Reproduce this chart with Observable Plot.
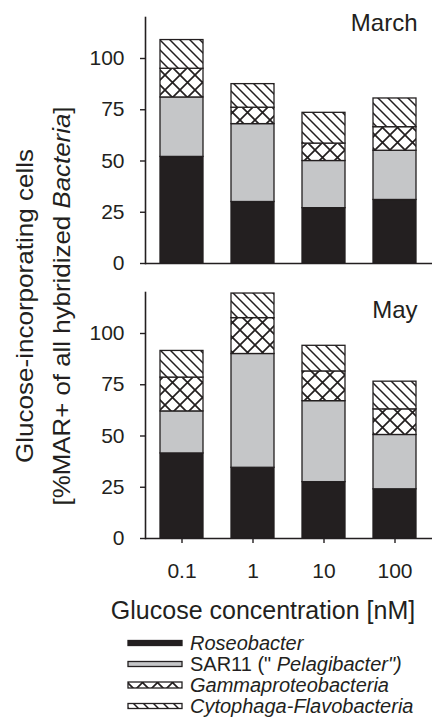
<!DOCTYPE html>
<html><head><meta charset="utf-8">
<script src="https://cdn.jsdelivr.net/npm/d3@7"></script>
<script src="https://cdn.jsdelivr.net/npm/@observablehq/plot@0.6"></script>
<style>
body{margin:0;background:#fff;}
#wrap{position:relative;width:432px;height:723px;overflow:hidden;font-family:"Liberation Sans",Arial,sans-serif;background:#fff;}
#wrap > svg{position:absolute;left:0;}
</style></head><body><div id="wrap"></div>
<script>
const concentrations = ["0.1", "1", "10", "100"];
const groups = ["Roseobacter", "SAR11", "Gammaproteobacteria", "Cytophaga-Flavobacteria"];
const months = ["March", "May"];
const marchRoseobacter = [52, 30, 27, 31];
const marchSAR11 = [29, 38, 23, 24];
const marchGamma = [14, 8, 8.5, 11.5];
const marchCytophaga = [14, 11.5, 15, 14];
const mayRoseobacter = [41.5, 34.5, 27.5, 24];
const maySAR11 = [20.5, 55.5, 39.5, 26.5];
const mayGamma = [16.5, 17.5, 14.5, 12.5];
const mayCytophaga = [13, 12, 12.5, 13.5];
const yTicks = [0, 25, 50, 75, 100];
const yDomain = [0, 120];
const fills = ["#231f20", "#c5c6c8", "url(#cross)", "url(#diag)"];
const legendLabels = [
  [{t: "Roseobacter", i: true}],
  [{t: "SAR11 (\" ", i: false}, {t: "Pelagibacter\")", i: true}],
  [{t: "Gammaproteobacteria", i: true}],
  [{t: "Cytophaga-Flavobacteria", i: true}]
];
const yTitle1 = "Glucose-incorporating cells";
const yTitle2 = [{t: "[%MAR+ of all hybridized ", i: false}, {t: "Bacteria", i: true}, {t: "]", i: false}];
const xTitle = "Glucose concentration [nM]";

const FONT = '"Liberation Sans", Arial, sans-serif';
const INK = "#231f20";
const wrap = document.getElementById("wrap");

function panel(month, series, o) {
  const rows = [];
  groups.forEach((g, gi) => concentrations.forEach((c, ci) =>
    rows.push({month, conc: c, group: g, value: series[gi][ci]})));
  return Plot.plot({
    width: 432, height: o.height,
    marginLeft: 145, marginRight: 0, marginTop: o.top, marginBottom: o.bottom,
    style: {fontFamily: FONT, fontSize: "21px", color: INK, background: "transparent", overflow: "visible"},
    x: {domain: concentrations, paddingInner: 0.389, paddingOuter: 0.19, axis: null},
    y: {domain: yDomain, axis: null},
    color: {domain: groups, range: fills},
    marks: [
      Plot.barY(rows, {x: "conc", y: "value", z: "group", fill: "group", stroke: INK, strokeWidth: 1.3}),
      Plot.axisY({ticks: yTicks, tickSize: 5, tickPadding: 16, fontSize: 21, strokeWidth: 1.4, label: null}),
      o.xaxis ? Plot.axisX({tickSize: 5, tickPadding: 20, fontSize: 21, strokeWidth: 1.4, label: null}) : null,
      Plot.frame({anchor: "left", strokeWidth: 1.6, stroke: INK}),
      Plot.ruleY([0], {strokeWidth: 1.6, stroke: INK}),
      Plot.text([month], {text: d => d, frameAnchor: "top-right", textAnchor: "end", lineAnchor: "bottom", dx: -15, dy: o.labelDy, fontSize: 24, fill: INK})
    ]
  });
}

const top1 = panel(months[0], [marchRoseobacter, marchSAR11, marchGamma, marchCytophaga],
  {height: 270, top: 17, bottom: 7, xaxis: false, labelDy: 13});
top1.style.top = "0px";
wrap.appendChild(top1);
const bot = panel(months[1], [mayRoseobacter, maySAR11, mayGamma, mayCytophaga],
  {height: 320, top: 22, bottom: 52, xaxis: true, labelDy: 25});
bot.style.top = "270px";
wrap.appendChild(bot);

// overlay: patterns, axis titles, legend
const svg = d3.select(wrap).append("svg")
  .attr("width", 432).attr("height", 723).style("top", "0px")
  .style("font-family", FONT).style("fill", INK);
const defs = svg.append("defs");
const pd = defs.append("pattern").attr("id", "diag").attr("patternUnits", "userSpaceOnUse")
  .attr("width", 10).attr("height", 10);
pd.append("rect").attr("width", 10).attr("height", 10).attr("fill", "#fff");
pd.append("path").attr("d", "M-2,-2L12,12M-2,8L2,12M8,-2L12,2")
  .attr("stroke", INK).attr("stroke-width", 1.5).attr("fill", "none");
const pc = defs.append("pattern").attr("id", "cross").attr("patternUnits", "userSpaceOnUse")
  .attr("width", 15).attr("height", 15);
pc.append("rect").attr("width", 15).attr("height", 15).attr("fill", "#fff");
pc.append("path").attr("d", "M-5,-5L20,20M-5,10L5,20M10,-5L20,5M20,-5L-5,20M-5,5L5,-5M10,20L20,10")
  .attr("stroke", INK).attr("stroke-width", 1.7).attr("fill", "none");

// y title
const t1 = svg.append("text").attr("transform", "translate(33,306) rotate(-90)")
  .attr("text-anchor", "middle").attr("font-size", 24)
  .attr("textLength", 314).attr("lengthAdjust", "spacingAndGlyphs").text(yTitle1);
const t2 = svg.append("text").attr("transform", "translate(70,306) rotate(-90)")
  .attr("text-anchor", "middle").attr("font-size", 24)
  .attr("textLength", 399).attr("lengthAdjust", "spacingAndGlyphs");
yTitle2.forEach(p => t2.append("tspan").attr("font-style", p.i ? "italic" : "normal").text(p.t));

// x title
svg.append("text").attr("x", 263).attr("y", 619).attr("text-anchor", "middle")
  .attr("font-size", 25).text(xTitle);

// legend
const rowY = [643, 664, 685, 706];
groups.forEach((g, i) => {
  const h = i === 2 ? 6 : 5;
  svg.append("rect").attr("x", 128).attr("y", rowY[i] - h / 2).attr("width", 54).attr("height", h)
    .attr("fill", fills[i]).attr("stroke", INK).attr("stroke-width", 1.3);
  const t = svg.append("text").attr("x", 190).attr("y", rowY[i] + 7).attr("font-size", 20);
  legendLabels[i].forEach(p => t.append("tspan").attr("font-style", p.i ? "italic" : "normal").text(p.t));
});
</script></body></html>
